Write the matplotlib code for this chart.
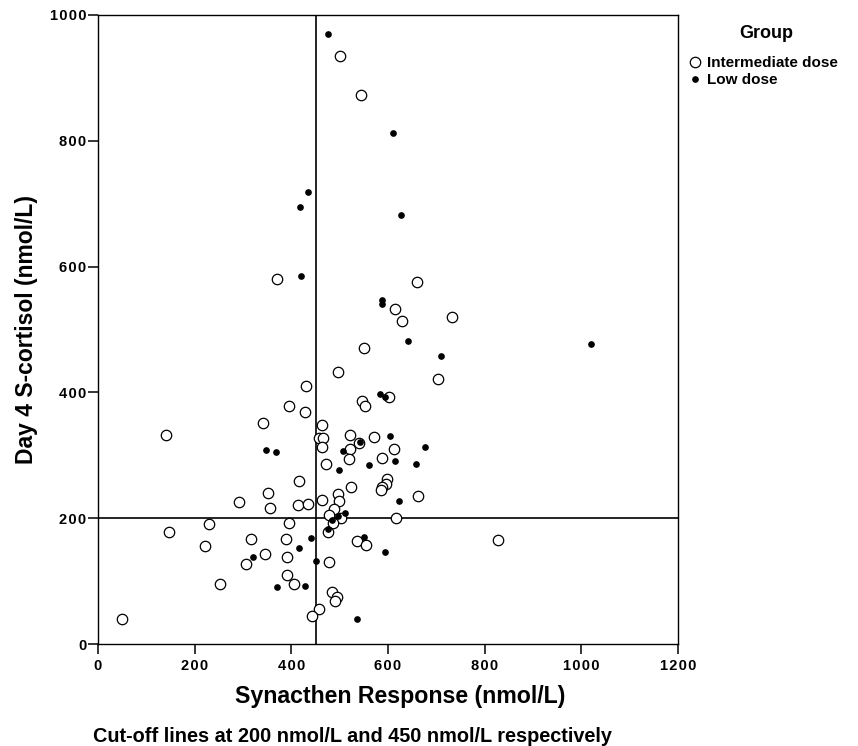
import numpy as np
import matplotlib
matplotlib.use("Agg")
import matplotlib.pyplot as plt
from matplotlib.ticker import FuncFormatter

plt.rcParams['font.family'] = ['Liberation Sans', 'DejaVu Sans']

# Intermediate dose (open circles): synacthen response, day 4 cortisol
inter_x = [501, 544, 371, 661, 615, 628, 733, 550, 497, 704, 430, 395, 428, 547,
           553, 603, 341, 141, 463, 457, 466, 464, 521, 540, 572, 612, 521, 519,
           472, 587, 416, 597, 595, 588, 585, 524, 662, 352, 292, 356, 414, 435,
           464, 497, 498, 489, 502, 478, 616, 487, 475, 395, 229, 147, 222, 317,
           388, 536, 555, 346, 391, 306, 478, 252, 390, 405, 484, 494, 491, 457,
           442, 50, 827]
inter_y = [935, 873, 580, 576, 533, 514, 520, 471, 432, 422, 410, 379, 369, 387,
           378, 393, 351, 333, 348, 327, 327, 313, 333, 320, 329, 310, 310, 294,
           286, 295, 259, 263, 254, 250, 245, 249, 236, 240, 225, 216, 221, 223,
           229, 239, 227, 215, 201, 205, 200, 192, 178, 193, 191, 178, 156, 167,
           167, 164, 158, 143, 138, 127, 130, 95, 110, 95, 83, 74, 68, 56,
           45, 39, 166]

# Low dose (filled dots)
low_x = [475, 610, 435, 418, 626, 421, 587, 587, 641, 710, 1020, 584, 594, 543,
         605, 677, 507, 347, 368, 561, 614, 657, 498, 622, 512, 497, 485, 475,
         440, 415, 550, 593, 321, 450, 371, 429, 535]
low_y = [970, 813, 718, 695, 682, 585, 547, 540, 482, 458, 477, 397, 393, 321,
         330, 313, 307, 309, 305, 284, 291, 286, 277, 228, 208, 204, 197, 183,
         168, 153, 170, 147, 138, 132, 90, 93, 39]

x_cut = 450
y_cut = 200


def spaced(v, pos):
    # SPSS-style letter spaced tick labels
    return '\u200a'.join(str(int(v)))


fig = plt.figure(figsize=(8.58, 7.46), dpi=100)
ax = fig.add_axes([98 / 858, 1 - 644 / 746, 580 / 858, 629 / 746])

ax.plot(inter_x, inter_y, 'o', markersize=7.5, markerfacecolor='white',
        markeredgecolor='black', markeredgewidth=0.9, label='Intermediate dose',
        zorder=3)
ax.plot(low_x, low_y, 'o', markersize=3.8, color='black', label='Low dose',
        zorder=4)

ax.axvline(x_cut, color='black', linewidth=1.2, zorder=2)
ax.axhline(y_cut, color='black', linewidth=1.2, zorder=2)

ax.set_xlim(0, 1200)
ax.set_ylim(0, 1000)
ax.set_xticks(np.arange(0, 1201, 200))
ax.set_yticks(np.arange(0, 1001, 200))
ax.xaxis.set_major_formatter(FuncFormatter(spaced))
ax.yaxis.set_major_formatter(FuncFormatter(spaced))
ax.tick_params(direction='out', length=7.5, width=1.1, labelsize=10.5)
ax.tick_params(axis='x', pad=3.5)
ax.tick_params(axis='y', pad=1)
for lab in ax.get_xticklabels() + ax.get_yticklabels():
    lab.set_fontweight('bold')
for sp in ax.spines.values():
    sp.set_linewidth(1.0)

ax.set_xlabel('Synacthen Response (nmol/L)', fontsize=16.7, fontweight='bold')
ax.set_ylabel('Day 4 S-cortisol (nmol/L)', fontsize=16.5, fontweight='bold')
ax.xaxis.set_label_coords(0.521, -0.065)
ax.yaxis.set_label_coords(-0.103, 0.5)

fig.text(93 / 858, 1 - 736 / 746,
         'Cut-off lines at 200 nmol/L and 450 nmol/L respectively',
         fontsize=14.3, fontweight='bold', va='center', ha='left')

# legend title drawn on its own so the gap above the entries matches
fig.text(766 / 858, 1 - 33 / 746, 'Group', fontsize=13, fontweight='bold',
         ha='center', va='center')
leg = fig.legend(loc='upper left', bbox_to_anchor=(689 / 858, 1 - 56 / 746),
                 frameon=False, handlelength=0.8, handletextpad=0.4,
                 borderaxespad=0, borderpad=0, labelspacing=0.22,
                 prop={'weight': 'bold', 'size': 11})

fig.savefig('out.png', dpi=100)
